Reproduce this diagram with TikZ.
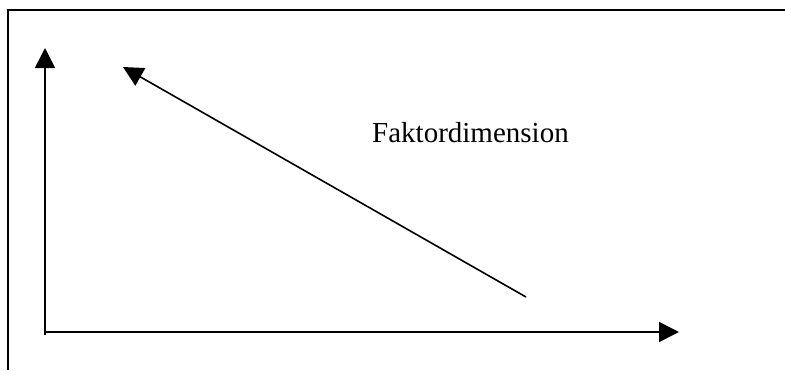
\documentclass[tikz,border=0pt]{standalone}
\usepackage{fontspec}
\setmainfont{Liberation Serif}
\usetikzlibrary{arrows.meta}

\begin{document}
\begin{tikzpicture}[
  x=1pt, y=-1pt,
  axis/.style={line width=1.6pt, -{Triangle[length=20pt,width=20pt]}},
  frameline/.style={line width=2pt},
  lbl/.style={font=\fontsize{29}{34}\selectfont, inner sep=0pt, anchor=base west}
]
\useasboundingbox (0,0) rectangle (785,370);

% frame (only top and left edges show)
\draw[frameline] (7.5,370) -- (7.5,9.5) -- (785,9.5);

% axes
\coordinate (origin) at (45,332);
\coordinate (ybot) at (45,335);
\coordinate (ytip) at (45,48);
\coordinate (xtip) at (679,332);
\draw[axis] (ybot) -- (ytip);
\draw[axis] (origin) -- (xtip);

% factor dimension
\coordinate (dstart) at (526,297);
\coordinate (dtip) at (123,67);
\draw[axis] (dstart) -- (dtip);
\node[lbl] (dimlbl) at (372,142.5) {Faktordimension};

\end{tikzpicture}
\end{document}
